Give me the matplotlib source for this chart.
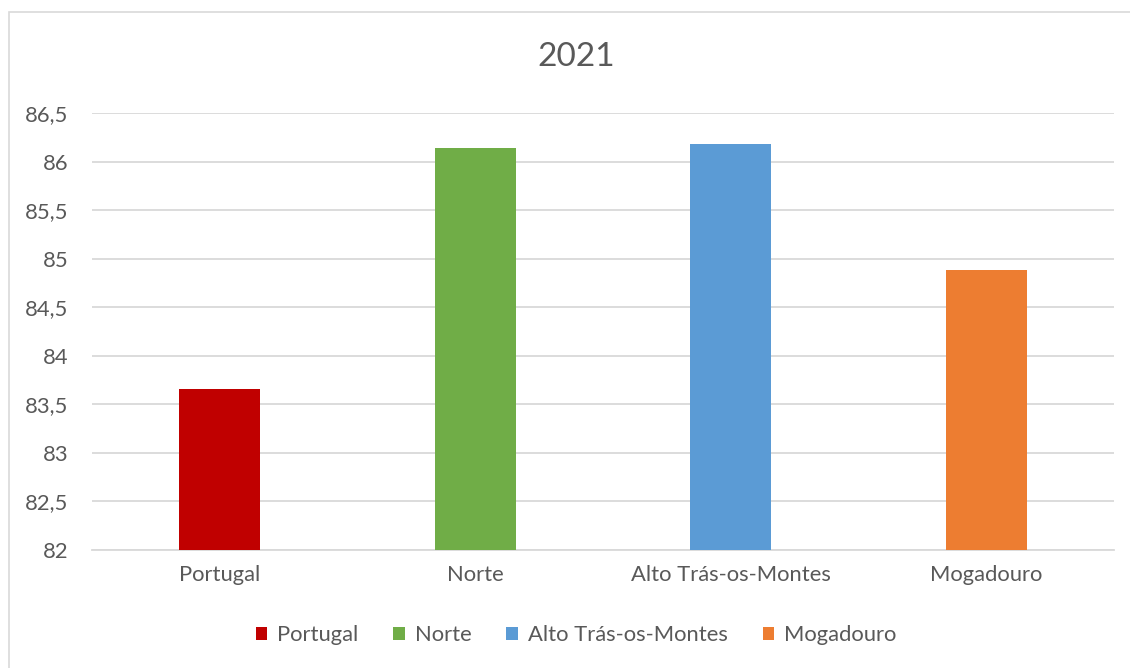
import matplotlib
matplotlib.use('Agg')
import matplotlib.pyplot as plt
from matplotlib.patches import Rectangle, Patch
from matplotlib.ticker import FuncFormatter

# values for 2021
regions = ['Portugal', 'Norte', 'Alto Trás-os-Montes', 'Mogadouro']
values = [83.66, 86.14, 86.18, 84.88]
colors = ['#c00000', '#70ad47', '#5b9bd5', '#ed7d31']
y_ticks = [82, 82.5, 83, 83.5, 84, 84.5, 85, 85.5, 86, 86.5]

plt.rcParams['font.family'] = ['Lato', 'DejaVu Sans']
text_col = '#595959'
grid_col = '#d9d9d9'
fs = 15.8

fig = plt.figure(figsize=(11.3, 6.68), dpi=100)
W, H = 1130, 668

# chart frame
fig.patches.append(Rectangle((9 / W, -0.05), 1.2, 1 - 12 / H + 0.05,
                             transform=fig.transFigure, fill=False,
                             edgecolor=grid_col, linewidth=1.2))

ax = fig.add_axes([92 / W, 1 - 550 / H, (1114 - 92) / W, (550 - 113) / H])
x = range(len(regions))
ax.bar(x, [v - 82 for v in values], bottom=82, width=0.317, color=colors, zorder=3)

ax.set_xlim(-0.5, 3.5)
ax.set_ylim(82, 86.5)
ax.set_yticks(y_ticks)
ax.yaxis.set_major_formatter(FuncFormatter(lambda v, p: ('%g' % v).replace('.', ',')))
ax.set_xticks(list(x))
ax.set_xticklabels(regions)
ax.grid(axis='y', color=grid_col, linewidth=1.3, zorder=0)
for s in ['top', 'right', 'left']:
    ax.spines[s].set_visible(False)
ax.spines['bottom'].set_color(grid_col)
ax.spines['bottom'].set_linewidth(1.3)
ax.tick_params(axis='both', length=0, labelsize=fs, labelcolor=text_col)
ax.tick_params(axis='y', pad=17)
ax.tick_params(axis='x', pad=11)

fig.text(576 / W, 1 - 57 / H, '2021', ha='center', va='center',
         fontsize=24, color=text_col)

handles = [Patch(facecolor=c) for c in colors]
fig.legend(handles, regions, loc='center', bbox_to_anchor=(576 / W, 1 - 635 / H),
           ncol=4, frameon=False, fontsize=fs, labelcolor=text_col,
           handlelength=0.52, handleheight=0.52, handletextpad=0.45, columnspacing=1.6)

fig.savefig('out.png', dpi=100)
